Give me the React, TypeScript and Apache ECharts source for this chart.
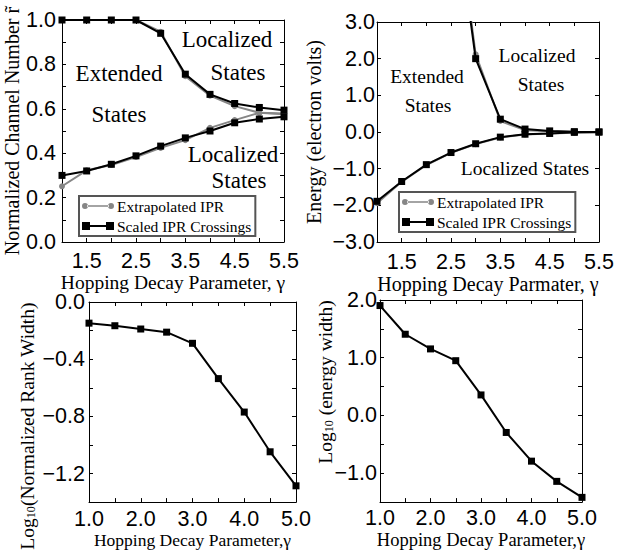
import React, { useEffect, useRef } from "react";
import * as echarts from "echarts";

// ---------- data ----------
const gammaTop = [1.0, 1.5, 2.0, 2.5, 3.0, 3.5, 4.0, 4.5, 5.0, 5.5];
const channelExtrapUpper = [1.0, 1.0, 1.0, 1.0, 0.947, 0.747, 0.659, 0.612, 0.582, 0.576];
const channelExtrapLower = [0.251, 0.323, 0.347, 0.383, 0.424, 0.459, 0.514, 0.549, 0.582, 0.579];
const channelScaledUpper = [1.0, 1.0, 1.0, 1.0, 0.94, 0.756, 0.665, 0.624, 0.606, 0.594];
const channelScaledLower = [0.3, 0.32, 0.35, 0.388, 0.432, 0.469, 0.5, 0.537, 0.554, 0.564];

const energyExtrapUpper = [null, null, null, 7.2, 2.12, 0.3, 0.05, 0.02, 0.0, -0.01];
const energyExtrapLower = [-1.94, -1.36, -0.9, -0.57, -0.33, -0.15, -0.07, -0.04, -0.02, -0.01];
const energyScaledUpper = [null, null, null, 7.0, 2.0, 0.35, 0.08, 0.03, 0.01, 0.0];
const energyScaledLower = [-1.89, -1.35, -0.89, -0.56, -0.32, -0.14, -0.06, -0.04, -0.01, 0.0];

const gammaBottom = [1.0, 1.5, 2.0, 2.5, 3.0, 3.5, 4.0, 4.5, 5.0];
const logRankWidth = [-0.148, -0.166, -0.189, -0.211, -0.289, -0.536, -0.77, -1.048, -1.286];
const logEnergyWidth = [1.904, 1.407, 1.153, 0.949, 0.356, -0.294, -0.791, -1.141, -1.418];

const topXTickLabels = ["1.5", "2.5", "3.5", "4.5", "5.5"];
const bottomXTickLabels = ["1.0", "2.0", "3.0", "4.0", "5.0"];
const channelTickLabels = ["0.0", "0.2", "0.4", "0.6", "0.8", "1.0"];
const energyTickLabels = ["-3.0", "-2.0", "-1.0", "0.0", "1.0", "2.0", "3.0"];
const rankTickLabels = ["-1.2", "-0.8", "-0.4", "0.0"];
const energyWidthTickLabels = ["-1.0", "0.0", "1.0", "2.0"];

const EXTRAP = "Extrapolated IPR";
const SCALED = "Scaled IPR Crossings";

// ---------- helpers ----------
const pairs = (xs: number[], ys: (number | null)[]) =>
  xs.map((x, i) => [x, ys[i]]).filter((p) => p[1] !== null);

const fmt = (v: number) => {
  const s = v.toFixed(1);
  return s === "-0.0" ? "0.0" : s;
};
const labelFrom = (labels: string[]) => (v: number) => {
  const s = fmt(v);
  return labels.includes(s) ? s.replace("-", "\u2212") : "";
};

const SANS = '"Liberation Sans", Arial, sans-serif';
const SERIF = '"Liberation Serif", "Times New Roman", serif';
const GRAY = "#868686";
const TICK_FONT = 21.5;

const grids = [
  { left: 62, top: 20, width: 222, height: 222 },
  { left: 377, top: 22, width: 222, height: 220 },
  { left: 89, top: 302, width: 207, height: 205 },
  { left: 380, top: 300, width: 202, height: 206 },
];

const axisBase = {
  type: "value" as const,
  splitLine: { show: false },
  axisLine: { show: true, onZero: false, lineStyle: { color: "#000", width: 1 } },
  axisTick: { show: true, inside: true, length: 4, lineStyle: { color: "#000" } },
};

const xSpec = [
  { min: 1, max: 5.5, interval: 0.5, labels: topXTickLabels, name: "Hopping Decay Parameter, \u03b3", nameGap: 24, nameSize: 19.5, nameLH: 17, labelLH: 18, margin: 10 },
  { min: 1, max: 5.5, interval: 0.5, labels: topXTickLabels, name: "Hopping Decay Parmater, \u03b3", nameGap: 24, nameSize: 20, nameLH: 20, labelLH: 20, margin: 10 },
  { min: 1, max: 5, interval: 0.5, labels: bottomXTickLabels, name: "Hopping Decay Parameter,\u03b3", nameGap: 25, nameSize: 17.5, nameLH: 17.5, labelLH: 20, margin: 7 },
  { min: 1, max: 5, interval: 0.5, labels: bottomXTickLabels, name: "Hopping Decay Parameter,\u03b3", nameGap: 25, nameSize: 18.5, nameLH: 18.5, labelLH: 20, margin: 6 },
];

const ySpec = [
  { min: 0, max: 1, interval: 0.1, labels: channelTickLabels, name: "Normalized Channel Number r\u0303", nameGap: 40, margin: 6 },
  { min: -3, max: 3, interval: 1, labels: energyTickLabels, name: "Energy (electron volts)", nameGap: 53, margin: 2 },
  { min: -1.4, max: 0, interval: 0.2, labels: rankTickLabels, name: "", nameGap: 52, margin: 4 },
  { min: -1.5, max: 2, interval: 0.5, labels: energyWidthTickLabels, name: "", nameGap: 45, margin: 3 },
];

const xAxes: any[] = [];
const yAxes: any[] = [];
xSpec.forEach((s, i) => {
  xAxes.push({
    ...axisBase,
    gridIndex: i,
    position: "bottom",
    min: s.min,
    max: s.max,
    interval: s.interval,
    name: s.name,
    nameLocation: "middle",
    nameGap: s.nameGap,
    nameTextStyle: { fontFamily: SERIF, fontSize: s.nameSize, lineHeight: s.nameLH, color: "#000" },
    axisLabel: {
      show: true,
      margin: s.margin,
      fontFamily: SANS,
      fontSize: TICK_FONT,
      lineHeight: s.labelLH,
      color: "#000",
      formatter: labelFrom(s.labels),
    },
  });
});
xSpec.forEach((s, i) => {
  xAxes.push({
    ...axisBase,
    gridIndex: i,
    position: "top",
    min: s.min,
    max: s.max,
    interval: s.interval,
    axisLabel: { show: false },
  });
});
ySpec.forEach((s, i) => {
  yAxes.push({
    ...axisBase,
    gridIndex: i,
    position: "left",
    min: s.min,
    max: s.max,
    interval: s.interval,
    name: s.name,
    nameLocation: "middle",
    nameGap: s.nameGap,
    nameRotate: 90,
    nameTextStyle: { fontFamily: SERIF, fontSize: 20, color: "#000" },
    axisLabel: {
      show: true,
      margin: s.margin,
      fontFamily: SANS,
      fontSize: TICK_FONT,
      lineHeight: 20,
      color: "#000",
      formatter: labelFrom(s.labels),
    },
  });
});
ySpec.forEach((s, i) => {
  yAxes.push({
    ...axisBase,
    gridIndex: i,
    position: "right",
    min: s.min,
    max: s.max,
    interval: s.interval,
    axisLabel: { show: false },
  });
});

const graySeries = (grid: number, ys: (number | null)[]) => ({
  type: "line",
  name: EXTRAP,
  xAxisIndex: grid,
  yAxisIndex: grid,
  data: pairs(gammaTop, ys),
  symbol: "circle",
  symbolSize: 6,
  itemStyle: { color: GRAY },
  lineStyle: { color: GRAY, width: 2 },
  clip: true,
  z: 2,
});
const blackSeries = (grid: number, xs: number[], ys: (number | null)[], name: string) => ({
  type: "line",
  name,
  xAxisIndex: grid,
  yAxisIndex: grid,
  data: pairs(xs, ys),
  symbol: "rect",
  symbolSize: 7,
  itemStyle: { color: "#000" },
  lineStyle: { color: "#000", width: 2 },
  clip: true,
  z: 3,
});

const ICON_CIRCLES =
  "path://M0,4a3,3 0 1,0 6,0a3,3 0 1,0 -6,0Z M5,3.3H27V4.7H5Z M26,4a3,3 0 1,0 6,0a3,3 0 1,0 -6,0Z";
const ICON_SQUARES = "path://M0,0H8V8H0Z M8,3H24V5H8Z M24,0H32V8H24Z";

const legendBase = {
  orient: "vertical",
  selectedMode: false,
  itemWidth: 32,
  itemHeight: 8,
  itemGap: 4,
  padding: [2, 4, 2, 3],
  backgroundColor: "#fff",
  borderColor: "#555",
  borderWidth: 2,
  textStyle: { fontFamily: SERIF, fontSize: 15.5, color: "#000", padding: [0, 0, 0, -2] },
  data: [
    { name: EXTRAP, icon: ICON_CIRCLES },
    { name: SCALED, icon: ICON_SQUARES },
  ],
};

const txt = (text: string, x: number, y: number, size: number) => ({
  type: "text",
  x,
  y,
  z: 10,
  style: {
    text,
    fill: "#000",
    fontFamily: SERIF,
    fontSize: size,
    align: "center",
    verticalAlign: "middle",
    textAlign: "center",
    textVerticalAlign: "middle",
  },
});

const vtxt = (text: string, x: number, y: number, size: number) => ({
  type: "text",
  x,
  y,
  rotation: Math.PI / 2,
  z: 10,
  style: {
    text,
    fill: "#000",
    fontFamily: SERIF,
    fontSize: size,
    align: "center",
    verticalAlign: "middle",
    textAlign: "center",
    textVerticalAlign: "middle",
    rich: {
      sub: { fontFamily: SERIF, fontSize: 12, fill: "#000", verticalAlign: "bottom", lineHeight: 14 },
    },
  },
});

export default function App() {
  const ref = useRef<HTMLDivElement>(null);
  useEffect(() => {
    if (!ref.current) return;
    const chart = echarts.init(ref.current, null, { renderer: "svg" });
    chart.setOption({
      animation: false,
      backgroundColor: "#fff",
      textStyle: { fontFamily: SERIF },
      grid: grids,
      xAxis: xAxes,
      yAxis: yAxes,
      legend: [
        { ...legendBase, left: 79, top: 196 },
        { ...legendBase, left: 399, top: 192 },
      ],
      series: [
        graySeries(0, channelExtrapUpper),
        graySeries(0, channelExtrapLower),
        blackSeries(0, gammaTop, channelScaledUpper, SCALED),
        blackSeries(0, gammaTop, channelScaledLower, SCALED),
        graySeries(1, energyExtrapUpper),
        graySeries(1, energyExtrapLower),
        blackSeries(1, gammaTop, energyScaledUpper, SCALED),
        blackSeries(1, gammaTop, energyScaledLower, SCALED),
        blackSeries(2, gammaBottom, logRankWidth, "Rank width"),
        blackSeries(3, gammaBottom, logEnergyWidth, "Energy width"),
      ],
      graphic: [
        txt("Extended", 119, 73, 23),
        txt("States", 119, 114, 23),
        txt("Localized", 227, 39, 23),
        txt("States", 238, 72, 23),
        txt("Localized", 233, 154, 23),
        txt("States", 239, 180, 23),
        txt("Extended", 427, 76, 19.5),
        txt("States", 428, 105, 19.5),
        txt("Localized", 537, 55, 19.5),
        txt("States", 541, 84, 19.5),
        txt("Localized States", 525, 168, 19.5),
        vtxt("Log{sub|10}(Normalized Rank Width)", 27, 426, 19.5),
        vtxt("Log{sub|10} (energy width)", 325, 382, 19.5),
      ],
    });
    return () => chart.dispose();
  }, []);
  return (
    <div
      ref={ref}
      style={{ position: "absolute", left: 0, top: 0, width: 618, height: 550, background: "#fff" }}
    />
  );
}
